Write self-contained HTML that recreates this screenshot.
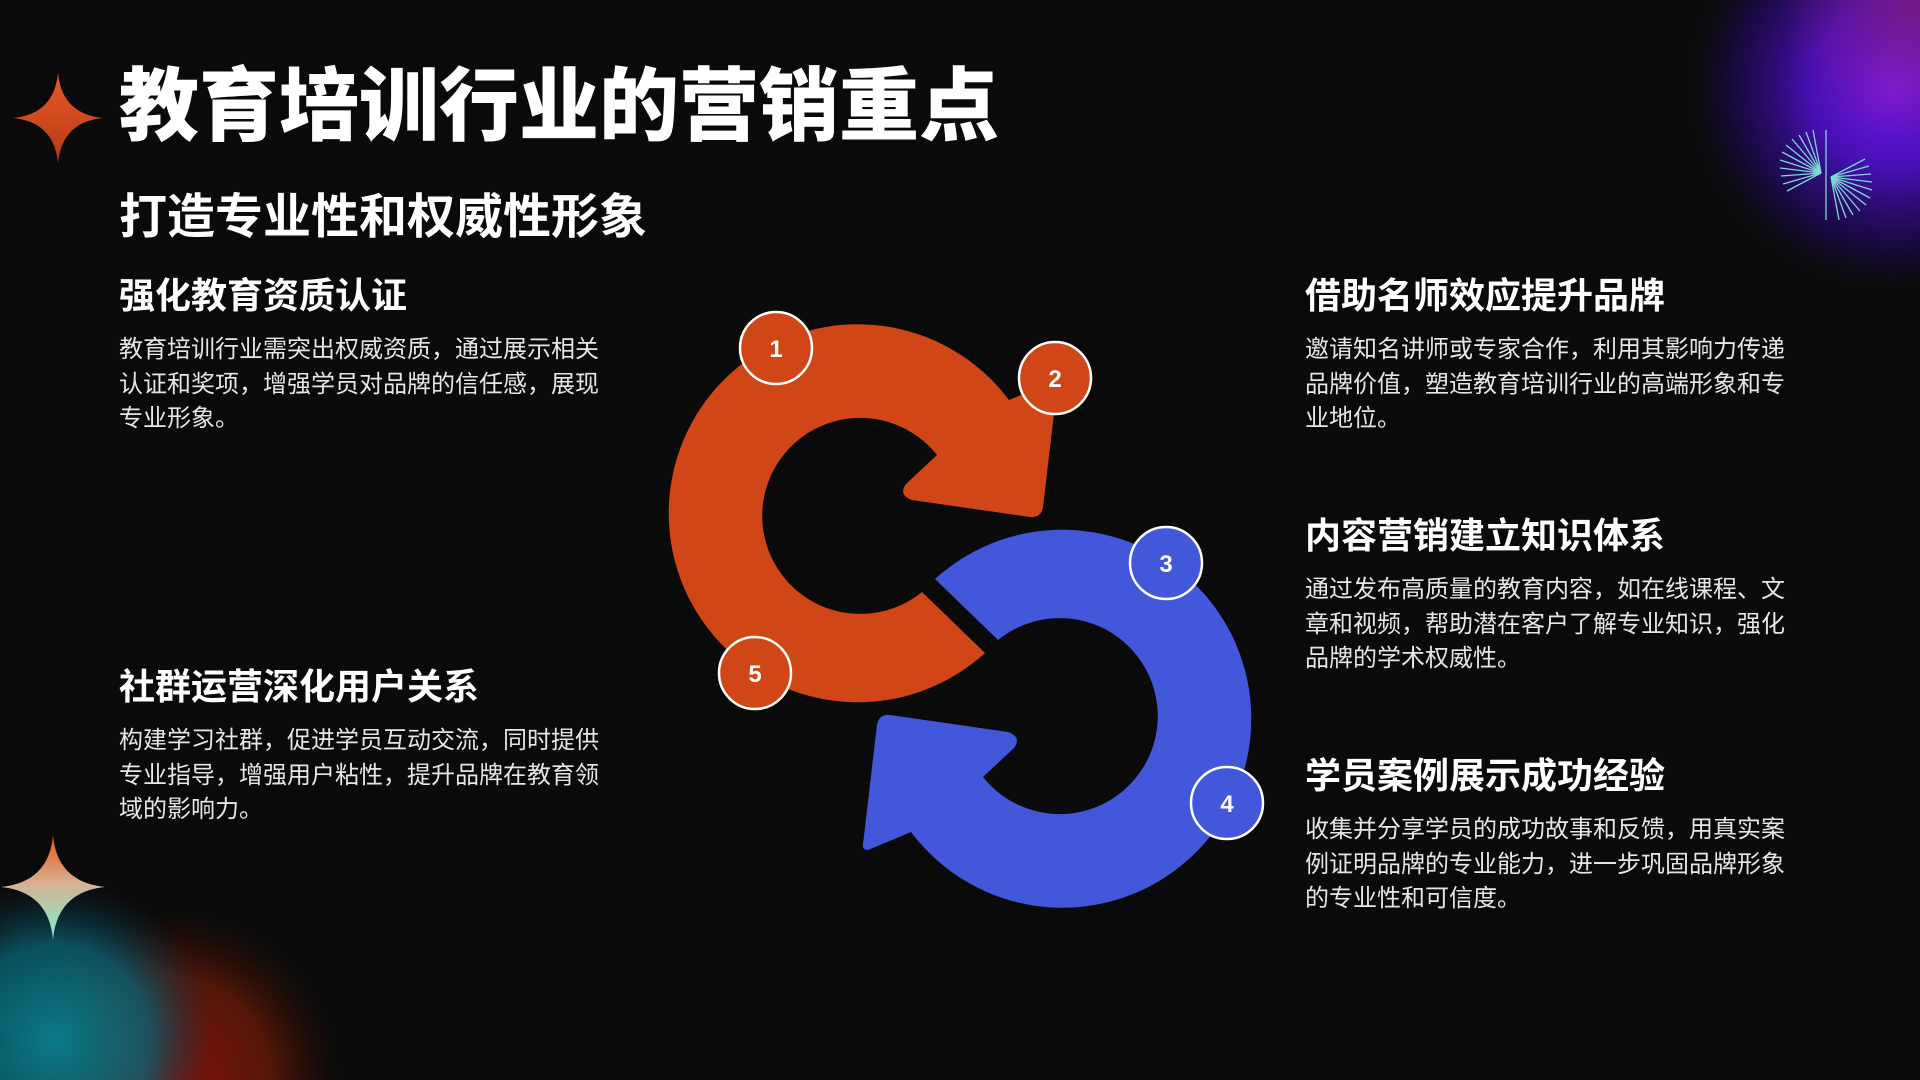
<!DOCTYPE html>
<html><head><meta charset="utf-8">
<style>
html,body{margin:0;padding:0;}
body{width:1920px;height:1080px;background:#0a0a0a;position:relative;overflow:hidden;font-family:"Liberation Sans","Noto Sans CJK SC",sans-serif;color:#fff;}
.t{position:absolute;white-space:nowrap;}
.title{left:119px;top:62px;font-size:80px;line-height:90px;font-weight:900;}
.sub{left:119px;top:190px;font-size:48px;line-height:56px;font-weight:700;}
.h{font-size:36px;line-height:42px;font-weight:700;}
.b{font-size:24px;line-height:34.5px;color:#e6e6e6;width:490px;white-space:normal;}
</style></head><body>
<svg width="1920" height="1080" style="position:absolute;left:0;top:0">
<defs>
<radialGradient id="pg" cx="1895" cy="85" r="215" gradientUnits="userSpaceOnUse">
<stop offset="0" stop-color="#7a18e8"/><stop offset="0.4" stop-color="#5010d0" stop-opacity="0.85"/><stop offset="0.75" stop-color="#2a0a80" stop-opacity="0.45"/><stop offset="1" stop-color="#0a0a0a" stop-opacity="0"/></radialGradient>
<radialGradient id="pg2" cx="1920" cy="0" r="140" gradientUnits="userSpaceOnUse">
<stop offset="0" stop-color="#8a2070" stop-opacity="0.7"/><stop offset="1" stop-color="#8a2070" stop-opacity="0"/></radialGradient>
<radialGradient id="tg" cx="55" cy="1040" r="160" gradientUnits="userSpaceOnUse">
<stop offset="0" stop-color="#0a7a86"/><stop offset="0.6" stop-color="#0a6070" stop-opacity="0.8"/><stop offset="1" stop-color="#0a3040" stop-opacity="0"/></radialGradient>
<radialGradient id="rg" cx="170" cy="1080" r="170" gradientUnits="userSpaceOnUse">
<stop offset="0" stop-color="#8a0e06"/><stop offset="0.6" stop-color="#6a1a08" stop-opacity="0.75"/><stop offset="1" stop-color="#3a1008" stop-opacity="0"/></radialGradient>
<linearGradient id="s1" x1="0" y1="0" x2="0" y2="1"><stop offset="0" stop-color="#e8582a"/><stop offset="1" stop-color="#b83a12"/></linearGradient>
<linearGradient id="s2" x1="0" y1="0" x2="0" y2="1"><stop offset="0" stop-color="#e8501c"/><stop offset="0.45" stop-color="#d8b090"/><stop offset="1" stop-color="#80f0d0"/></linearGradient>
</defs>
<rect x="1600" y="0" width="320" height="340" fill="url(#pg)"/>
<rect x="1760" y="0" width="160" height="160" fill="url(#pg2)"/>
<rect x="0" y="860" width="400" height="220" fill="url(#rg)"/>
<rect x="0" y="860" width="400" height="220" fill="url(#tg)"/>
<path d="M58,73 Q62,114 103,118 Q62,122 58,163 Q54,122 13,118 Q54,114 58,73Z" fill="url(#s1)"/>
<path d="M53,835 Q57,882 105,887 Q57,892 53,940 Q49,892 1,887 Q49,882 53,835Z" fill="url(#s2)"/>
<g stroke="#7ed8d8" stroke-width="1.3">
<line x1="1826" y1="130" x2="1826" y2="220"/>
<line x1="1821" y1="173" x2="1780" y2="160"/><line x1="1821" y1="173" x2="1782" y2="152"/><line x1="1821" y1="173" x2="1786" y2="145"/><line x1="1821" y1="173" x2="1792" y2="139"/><line x1="1821" y1="173" x2="1799" y2="135"/><line x1="1821" y1="173" x2="1806" y2="132"/><line x1="1821" y1="173" x2="1813" y2="130"/><line x1="1821" y1="173" x2="1780" y2="168"/><line x1="1821" y1="173" x2="1781" y2="176"/><line x1="1821" y1="173" x2="1783" y2="184"/><line x1="1821" y1="173" x2="1787" y2="191"/>
<line x1="1831" y1="177" x2="1872" y2="190"/><line x1="1831" y1="177" x2="1870" y2="198"/><line x1="1831" y1="177" x2="1866" y2="205"/><line x1="1831" y1="177" x2="1860" y2="211"/><line x1="1831" y1="177" x2="1853" y2="215"/><line x1="1831" y1="177" x2="1846" y2="218"/><line x1="1831" y1="177" x2="1839" y2="220"/><line x1="1831" y1="177" x2="1872" y2="182"/><line x1="1831" y1="177" x2="1871" y2="174"/><line x1="1831" y1="177" x2="1869" y2="166"/><line x1="1831" y1="177" x2="1865" y2="159"/>
</g>
<path d="M1009,400 L1052,382 Q1058,382 1057,388 L1043,507 Q1041,518 1030,517 L912,500 Q898,495 906,484 L937,455 A98,98 0 1 0 922,592 L985,653 A189,189 0 1 1 1009,400Z" fill="#d04616"/>
<path d="M1009,400 L1052,382 Q1058,382 1057,388 L1043,507 Q1041,518 1030,517 L912,500 Q898,495 906,484 L937,455 A98,98 0 1 0 922,592 L985,653 A189,189 0 1 1 1009,400Z" fill="#4357db" transform="rotate(180 960 616)"/>
<g stroke="#fff" stroke-width="2.5" font-family="Liberation Sans, sans-serif" font-weight="700" font-size="24" text-anchor="middle">
<circle cx="776" cy="348" r="36" fill="#d04616"/><text x="776" y="357" fill="#fff" stroke="none">1</text>
<circle cx="1055" cy="378" r="36" fill="#d04616"/><text x="1055" y="387" fill="#fff" stroke="none">2</text>
<circle cx="1166" cy="563" r="36" fill="#4357db"/><text x="1166" y="572" fill="#fff" stroke="none">3</text>
<circle cx="1227" cy="803" r="36" fill="#4357db"/><text x="1227" y="812" fill="#fff" stroke="none">4</text>
<circle cx="755" cy="673" r="36" fill="#d04616"/><text x="755" y="682" fill="#fff" stroke="none">5</text>
</g>
</svg>
<div class="t title">教育培训行业的营销重点</div>
<div class="t sub">打造专业性和权威性形象</div>

<div class="t h" style="left:119px;top:275px">强化教育资质认证</div>
<div class="t b" style="left:119px;top:333px">教育培训行业需突出权威资质，通过展示相关认证和奖项，增强学员对品牌的信任感，展现专业形象。</div>

<div class="t h" style="left:119px;top:666px">社群运营深化用户关系</div>
<div class="t b" style="left:119px;top:724px">构建学习社群，促进学员互动交流，同时提供专业指导，增强用户粘性，提升品牌在教育领域的影响力。</div>

<div class="t h" style="left:1305px;top:275px">借助名师效应提升品牌</div>
<div class="t b" style="left:1305px;top:333px">邀请知名讲师或专家合作，利用其影响力传递品牌价值，塑造教育培训行业的高端形象和专业地位。</div>

<div class="t h" style="left:1305px;top:515px">内容营销建立知识体系</div>
<div class="t b" style="left:1305px;top:573px">通过发布高质量的教育内容，如在线课程、文章和视频，帮助潜在客户了解专业知识，强化品牌的学术权威性。</div>

<div class="t h" style="left:1305px;top:755px">学员案例展示成功经验</div>
<div class="t b" style="left:1305px;top:813px">收集并分享学员的成功故事和反馈，用真实案例证明品牌的专业能力，进一步巩固品牌形象的专业性和可信度。</div>
</body></html>
